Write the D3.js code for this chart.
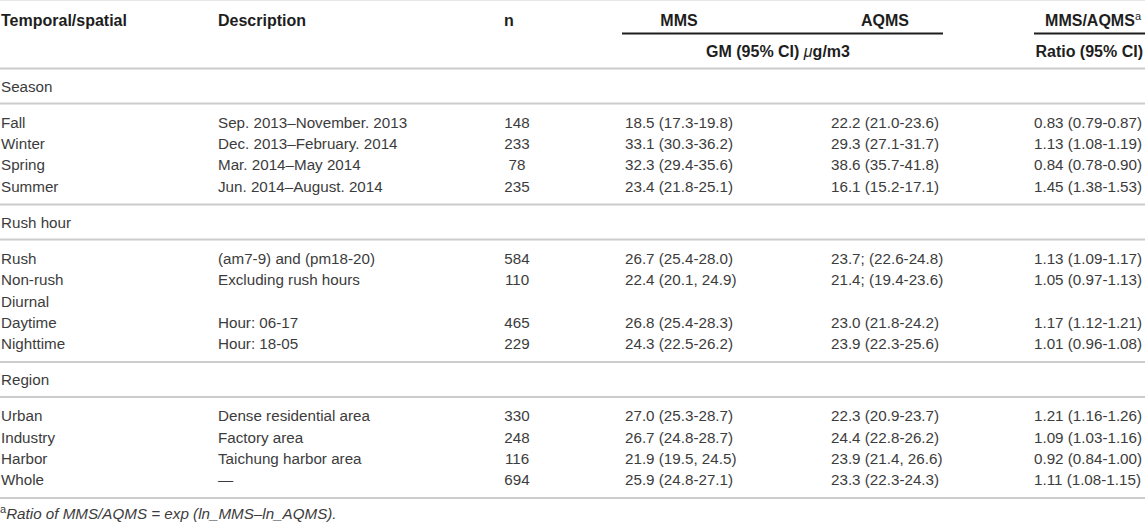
<!DOCTYPE html>
<html lang="en">
<head>
  <meta charset="utf-8">
  <title>MMS vs AQMS table</title>
  <script src="https://d3js.org/d3.v7.min.js"></script>
  <style>
    body { margin: 0; background: #fff; }
    svg text { font-family: "Liberation Sans", Arial, Helvetica, sans-serif; font-size: 15.2px; }
    svg text.bold { font-size: 16px; font-weight: bold; }
  </style>
</head>
<body>

<svg width="1145" height="522"></svg>

<script>
  // Table data
  const sections = ["Season", "Rush hour", "Region"];
  const rowLabels = ["Fall", "Winter", "Spring", "Summer", "Rush", "Non-rush", "Diurnal", "Daytime", "Nighttime",
    "Urban", "Industry", "Harbor", "Whole"];
  const rowSection = [0, 0, 0, 0, 1, 1, 1, 1, 1, 2, 2, 2, 2];
  const descriptions = ["Sep. 2013–November. 2013", "Dec. 2013–February. 2014", "Mar. 2014–May 2014",
    "Jun. 2014–August. 2014", "(am7-9) and (pm18-20)", "Excluding rush hours", "", "Hour: 06-17", "Hour: 18-05",
    "Dense residential area", "Factory area", "Taichung harbor area", "—"];
  const nValues = [148, 233, 78, 235, 584, 110, null, 465, 229, 330, 248, 116, 694];
  const mmsCells = ["18.5 (17.3-19.8)", "33.1 (30.3-36.2)", "32.3 (29.4-35.6)", "23.4 (21.8-25.1)",
    "26.7 (25.4-28.0)", "22.4 (20.1, 24.9)", "", "26.8 (25.4-28.3)", "24.3 (22.5-26.2)",
    "27.0 (25.3-28.7)", "26.7 (24.8-28.7)", "21.9 (19.5, 24.5)", "25.9 (24.8-27.1)"];
  const aqmsCells = ["22.2 (21.0-23.6)", "29.3 (27.1-31.7)", "38.6 (35.7-41.8)", "16.1 (15.2-17.1)",
    "23.7; (22.6-24.8)", "21.4; (19.4-23.6)", "", "23.0 (21.8-24.2)", "23.9 (22.3-25.6)",
    "22.3 (20.9-23.7)", "24.4 (22.8-26.2)", "23.9 (21.4, 26.6)", "23.3 (22.3-24.3)"];
  const ratioCells = ["0.83 (0.79-0.87)", "1.13 (1.08-1.19)", "0.84 (0.78-0.90)", "1.45 (1.38-1.53)",
    "1.13 (1.09-1.17)", "1.05 (0.97-1.13)", "", "1.17 (1.12-1.21)", "1.01 (0.96-1.08)",
    "1.21 (1.16-1.26)", "1.09 (1.03-1.16)", "0.92 (0.84-1.00)", "1.11 (1.08-1.15)"];
  const headerTop = ["Temporal/spatial", "Description", "n", "MMS", "AQMS"];
  const footnote = "Ratio of MMS/AQMS = exp (ln_MMS–ln_AQMS).";

  const svg = d3.select("svg");
  const width = +svg.attr("width");

  const textColor = "#3c3c3c";
  const headColor = "#1e1e1e";
  const ruleColor = "#cccccc";

  // column x positions
  const colX = d3.scaleOrdinal()
    .domain(["label", "desc", "n", "mms", "aqms", "ratio"])
    .range([1, 218, 517, 625, 831, 1034]);

  // vertical layout
  const headLine = 68.5;
  const secH = 35;
  const padTop = 19, padBottom = 18.5, rowStep = 21.2;
  const base = 5.5; // centre -> baseline

  const rules = [headLine];
  const secY = [];
  const rowY = [];
  let y = headLine;
  sections.forEach((s, si) => {
    secY.push(y + 17.5);
    y += secH;
    rules.push(y);
    const idx = d3.range(rowLabels.length).filter(i => rowSection[i] === si);
    idx.forEach((i, k) => { rowY[i] = y + padTop + k * rowStep; });
    y += padTop + (idx.length - 1) * rowStep + padBottom;
    rules.push(y);
  });

  // top faint line
  svg.append("line")
    .attr("x1", 0).attr("x2", width).attr("y1", 0.5).attr("y2", 0.5)
    .attr("stroke", "#e6e6e6").attr("stroke-width", 1);

  // horizontal rules
  svg.selectAll("line.rule")
    .data(rules)
    .join("line")
    .attr("class", "rule")
    .attr("x1", 0).attr("x2", width)
    .attr("y1", d => d).attr("y2", d => d)
    .attr("stroke", ruleColor)
    .attr("stroke-width", 2);

  // group underlines
  svg.append("line")
    .attr("x1", 622).attr("x2", 943).attr("y1", 33.5).attr("y2", 33.5)
    .attr("stroke", headColor).attr("stroke-width", 2);
  svg.append("line")
    .attr("x1", 1034).attr("x2", width).attr("y1", 33.5).attr("y2", 33.5)
    .attr("stroke", headColor).attr("stroke-width", 2);

  // header row 1
  const headX = [1, 218, 509, 679, 885];
  const headAnchor = ["start", "start", "middle", "middle", "middle"];
  svg.selectAll("text.head")
    .data(headerTop)
    .join("text")
    .attr("class", "head bold")
    .attr("x", (d, i) => headX[i])
    .attr("y", 26)
    .attr("text-anchor", (d, i) => headAnchor[i])
    .attr("fill", headColor)
    .text(d => d);

  const ratioHead = svg.append("text")
    .attr("class", "bold")
    .attr("x", 1141).attr("y", 26)
    .attr("text-anchor", "end")
    .attr("fill", headColor);
  ratioHead.append("tspan").text("MMS/AQMS");
  ratioHead.append("tspan").attr("dy", -6).attr("font-size", 11).attr("font-weight", "normal").text("a");

  // header row 2
  const gm = svg.append("text")
    .attr("class", "bold")
    .attr("x", 778).attr("y", 57)
    .attr("text-anchor", "middle")
    .attr("fill", headColor);
  gm.append("tspan").text("GM (95% CI) ");
  gm.append("tspan").attr("font-style", "italic").attr("font-weight", "normal").text("μ");
  gm.append("tspan").text("g/m3");

  svg.append("text")
    .attr("class", "bold")
    .attr("x", 1143).attr("y", 57)
    .attr("text-anchor", "end")
    .attr("fill", headColor)
    .text("Ratio (95% CI)");

  // section titles
  svg.selectAll("text.sec")
    .data(sections)
    .join("text")
    .attr("class", "sec")
    .attr("x", colX("label"))
    .attr("y", (d, i) => secY[i] + base)
    .attr("fill", textColor)
    .text(d => d);

  // body cells
  const columns = [
    { key: "label", vals: rowLabels, anchor: "start" },
    { key: "desc", vals: descriptions, anchor: "start" },
    { key: "n", vals: nValues.map(v => v == null ? "" : String(v)), anchor: "middle" },
    { key: "mms", vals: mmsCells, anchor: "start" },
    { key: "aqms", vals: aqmsCells, anchor: "start" },
    { key: "ratio", vals: ratioCells, anchor: "start" }
  ];

  columns.forEach(col => {
    svg.selectAll("text.c-" + col.key)
      .data(col.vals)
      .join("text")
      .attr("class", "c-" + col.key)
      .attr("x", colX(col.key))
      .attr("y", (d, i) => rowY[i] + base)
      .attr("text-anchor", col.anchor)
      .attr("fill", textColor)
      .text(d => d);
  });

  // footnote
  const fn = svg.append("text")
    .attr("x", 0).attr("y", 519)
    .attr("fill", textColor);
  fn.append("tspan").attr("font-size", 11).attr("dy", -6).text("a");
  fn.append("tspan").attr("dy", 6).attr("font-style", "italic").text(footnote);
</script>
</body>
</html>
